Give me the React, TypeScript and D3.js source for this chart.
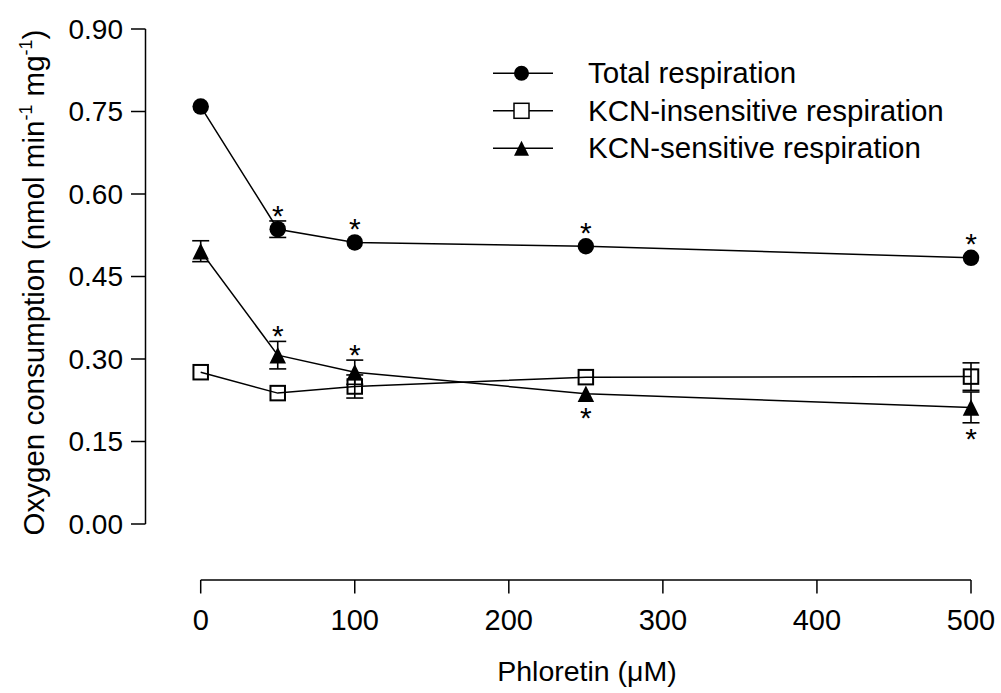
import React from 'react';
import * as d3 from 'd3';

// Phloretin dose (µM)
const doses = [0, 50, 100, 250, 500];

// Oxygen consumption, mean ± SEM (nmol min-1 mg-1)
const totalMean = [0.759, 0.536, 0.512, 0.505, 0.484];
const totalSem = [0.005, 0.015, 0.006, 0.005, 0.006];
const insensMean = [0.276, 0.238, 0.25, 0.267, 0.268];
const insensSem = [0.008, 0.006, 0.021, 0.008, 0.025];
const sensMean = [0.496, 0.307, 0.276, 0.237, 0.212];
const sensSem = [0.019, 0.025, 0.022, 0.007, 0.028];

// significance marks: '' none, 'up' above, 'down' below
const totalSig = ['', 'up', 'up', 'up', 'up'];
const insensSig = ['', '', '', '', ''];
const sensSig = ['', 'up', 'up', 'down', 'down'];

const yTicks = [0, 0.15, 0.3, 0.45, 0.6, 0.75, 0.9];
const xTicks = [0, 100, 200, 300, 400, 500];

const seriesNames = ['Total respiration', 'KCN-insensitive respiration', 'KCN-sensitive respiration'];

const W = 1001;
const H = 693;
const FONT = "'Liberation Sans', Arial, Helvetica, sans-serif";

type Shape = 'circle' | 'square' | 'triangle';

interface Series {
  name: string;
  shape: Shape;
  mean: number[];
  sem: number[];
  sig: string[];
}

const series: Series[] = [
  { name: seriesNames[0], shape: 'circle', mean: totalMean, sem: totalSem, sig: totalSig },
  { name: seriesNames[1], shape: 'square', mean: insensMean, sem: insensSem, sig: insensSig },
  { name: seriesNames[2], shape: 'triangle', mean: sensMean, sem: sensSem, sig: sensSig },
];

const Marker: React.FC<{ shape: Shape; cx: number; cy: number; s: number }> = ({ shape, cx, cy, s }) => {
  const h = s / 2;
  if (shape === 'circle') return <circle cx={cx} cy={cy} r={h} fill="#000" />;
  if (shape === 'square')
    return <rect x={cx - h + 1} y={cy - h + 1} width={s - 2} height={s - 2} fill="none" stroke="#000" strokeWidth={2} />;
  return <path d={`M${cx},${cy - h}L${cx + h},${cy + h}L${cx - h},${cy + h}Z`} fill="#000" />;
};

const App: React.FC = () => {
  const x = d3.scaleLinear().domain([0, 500]).range([200.7, 971]);
  const y = d3.scaleLinear().domain([0, 0.9]).range([524, 29]);
  const line = d3.line<number>().x((_, i) => x(doses[i])).y((d) => y(d));

  const ms = 16.5; // marker size
  const half = ms / 2;
  const capW = 17;
  const starSize = 30;

  return (
    <svg width={W} height={H} style={{ position: 'absolute', left: 0, top: 0, background: '#fff' }} fontFamily={FONT}>
      {/* y axis */}
      <g stroke="#000" strokeWidth={1.5}>
        <line x1={145.5} x2={145.5} y1={y(0.9)} y2={y(0)} />
        {yTicks.map((t) => (
          <line key={t} x1={131} x2={145.5} y1={y(t)} y2={y(t)} />
        ))}
      </g>
      {yTicks.map((t) => (
        <text key={t} x={123} y={y(t) + 9.5} fontSize={28} textAnchor="end">
          {d3.format('.2f')(t)}
        </text>
      ))}
      <text transform={`translate(43.5,${282.5}) rotate(-90)`} fontSize={29.5} textAnchor="middle">
        Oxygen consumption (nmol min<tspan dy={-12} fontSize={18}>-1</tspan>
        <tspan dy={12}> mg</tspan>
        <tspan dy={-12} fontSize={18}>-1</tspan>
        <tspan dy={12}>)</tspan>
      </text>

      {/* x axis */}
      <g stroke="#000" strokeWidth={1.5}>
        <line x1={x(0)} x2={x(500)} y1={580} y2={580} />
        {xTicks.map((t) => (
          <line key={t} x1={x(t)} x2={x(t)} y1={580} y2={593.5} />
        ))}
      </g>
      {xTicks.map((t) => (
        <text key={t} x={x(t)} y={630} fontSize={29} textAnchor="middle">
          {t}
        </text>
      ))}
      <text x={587} y={680.5} fontSize={28.5} textAnchor="middle">
        Phloretin (μM)
      </text>

      {/* error bars */}
      <g stroke="#000" strokeWidth={1.6}>
        {series.map((s) =>
          s.mean.map((m, i) => {
            const cx = x(doses[i]);
            const e = y(m - s.sem[i]) - y(m);
            if (e < half - 0.5) return null;
            const top = y(m + s.sem[i]);
            const bot = y(m - s.sem[i]);
            return (
              <g key={`${s.name}-${i}`}>
                <line x1={cx} x2={cx} y1={top} y2={bot} />
                <line x1={cx - capW / 2} x2={cx + capW / 2} y1={top} y2={top} />
                <line x1={cx - capW / 2} x2={cx + capW / 2} y1={bot} y2={bot} />
              </g>
            );
          })
        )}
      </g>

      {/* lines */}
      {series.map((s) => (
        <path key={s.name} d={line(s.mean) ?? ''} fill="none" stroke="#000" strokeWidth={1.5} />
      ))}

      {/* markers */}
      {series.map((s) =>
        s.mean.map((m, i) => (
          <Marker key={`${s.name}-m-${i}`} shape={s.shape} cx={x(doses[i])} cy={y(m)} s={ms} />
        ))
      )}

      {/* significance asterisks */}
      {series.map((s) =>
        s.sig.map((g, i) => {
          if (!g) return null;
          const cx = x(doses[i]);
          const e = y(s.mean[i] - s.sem[i]) - y(s.mean[i]);
          const ext = Math.max(half, e >= half - 0.5 ? e : 0);
          const cy = g === 'up' ? y(s.mean[i]) - ext - 8 : y(s.mean[i]) + ext + 13.5;
          return (
            <text key={`${s.name}-s-${i}`} x={cx} y={cy + starSize * 0.42} fontSize={starSize} textAnchor="middle">
              *
            </text>
          );
        })
      )}

      {/* legend */}
      {series.map((s, i) => {
        const ly = 73.3 + i * 37.5;
        return (
          <g key={`leg-${s.name}`}>
            <line x1={493} x2={553} y1={ly} y2={ly} stroke="#000" strokeWidth={1.5} />
            {s.shape === 'square' ? (
              <rect x={514} y={ly - 7.5} width={15} height={15} fill="#fff" stroke="#000" strokeWidth={1.5} />
            ) : (
              <Marker shape={s.shape} cx={521.5} cy={ly} s={15} />
            )}
            <text x={588} y={ly + 10} fontSize={29.5}>
              {s.name}
            </text>
          </g>
        );
      })}
    </svg>
  );
};

export default App;
